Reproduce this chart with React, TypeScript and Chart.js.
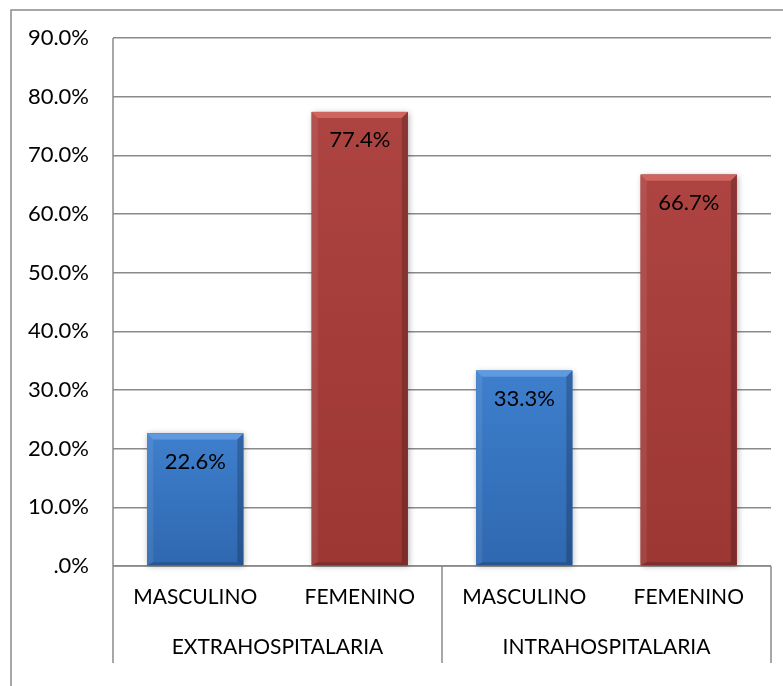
import { useEffect, useRef } from "react";
import { Chart, registerables } from "chart.js";

Chart.register(...registerables);

// Categories (inner level) and their outer grouping
const categories = ["MASCULINO", "FEMENINO", "MASCULINO", "FEMENINO"];
const groups = ["EXTRAHOSPITALARIA", "INTRAHOSPITALARIA"];
const groupSizes = [2, 2];

// Percentages per bar
const percentages = [22.6, 77.4, 33.3, 66.7];

// Axis settings
const yMax = 90;
const yStep = 10;

const FONT = "Lato, 'Open Sans', sans-serif";
const GRID = "#8a8a8a";

const palette = {
  blue: { base: "#3877c6", light: "#3e7fcd", dark: "#2f68b0", top: "#5f9ae0" },
  red: { base: "#a63e3b", light: "#ad4441", dark: "#9c3734", top: "#d0645f" },
};
const barTones = [palette.blue, palette.red, palette.blue, palette.red];

function barBox(el: any) {
  const { x, y, base, width } = el.getProps(["x", "y", "base", "width"], true);
  return { left: x - width / 2, right: x + width / 2, top: y, bottom: base, x };
}

const framePlugin = {
  id: "frame",
  beforeDraw(chart: any) {
    const { ctx } = chart;
    ctx.save();
    ctx.fillStyle = "#ffffff";
    ctx.fillRect(0, 0, chart.width, chart.height);
    ctx.strokeStyle = GRID;
    ctx.lineWidth = 1.5;
    ctx.strokeRect(11, 10, chart.width + 20, chart.height + 20);
    ctx.restore();
  },
  beforeDatasetsDraw(chart: any) {
    const { ctx, chartArea } = chart;
    const xs = chart.scales.x;
    const bottomLine = 663;
    ctx.save();
    ctx.strokeStyle = GRID;
    ctx.lineWidth = 1.5;
    // value axis and baseline
    ctx.beginPath();
    ctx.moveTo(chartArea.left, chartArea.top);
    ctx.lineTo(chartArea.left, bottomLine);
    ctx.moveTo(chartArea.left, chartArea.bottom);
    ctx.lineTo(chartArea.right, chartArea.bottom);
    // group separators
    let idx = 0;
    const half = (xs.getPixelForValue(1) - xs.getPixelForValue(0)) / 2;
    groupSizes.forEach((n) => {
      idx += n;
      const sx = xs.getPixelForValue(idx - 1) + half;
      ctx.moveTo(sx, chartArea.bottom);
      ctx.lineTo(sx, bottomLine);
    });
    ctx.stroke();

    // soft shadows under the bars
    const meta = chart.getDatasetMeta(0);
    meta.data.forEach((el: any, i: number) => {
      const b = barBox(el);
      ctx.save();
      ctx.shadowColor = "rgba(0,0,0,0.3)";
      ctx.shadowBlur = 6;
      ctx.shadowOffsetX = 1;
      ctx.shadowOffsetY = 1;
      ctx.fillStyle = barTones[i].base;
      ctx.fillRect(b.left, b.top, b.right - b.left, b.bottom - b.top);
      ctx.restore();
    });
    ctx.restore();
  },
  afterDatasetsDraw(chart: any) {
    const { ctx } = chart;
    const meta = chart.getDatasetMeta(0);
    const xs = chart.scales.x;
    ctx.save();
    meta.data.forEach((el: any, i: number) => {
      const b = barBox(el);
      const tone = barTones[i];
      const w = b.right - b.left;
      const h = b.bottom - b.top;
      const bev = 6;
      // body shading
      const g = ctx.createLinearGradient(0, b.top, 0, b.bottom);
      g.addColorStop(0, tone.light);
      g.addColorStop(1, tone.dark);
      ctx.fillStyle = g;
      ctx.fillRect(b.left, b.top, w, h);
      // top bevel
      ctx.fillStyle = tone.top;
      ctx.beginPath();
      ctx.moveTo(b.left, b.top);
      ctx.lineTo(b.right, b.top);
      ctx.lineTo(b.right - bev, b.top + bev);
      ctx.lineTo(b.left + bev, b.top + bev);
      ctx.closePath();
      ctx.fill();
      // left bevel
      ctx.fillStyle = "rgba(255,255,255,0.08)";
      ctx.beginPath();
      ctx.moveTo(b.left, b.top);
      ctx.lineTo(b.left + bev, b.top + bev);
      ctx.lineTo(b.left + bev, b.bottom - 3);
      ctx.lineTo(b.left, b.bottom);
      ctx.closePath();
      ctx.fill();
      // right bevel
      ctx.fillStyle = "rgba(0,0,0,0.2)";
      ctx.beginPath();
      ctx.moveTo(b.right, b.top);
      ctx.lineTo(b.right - bev, b.top + bev);
      ctx.lineTo(b.right - bev, b.bottom - 3);
      ctx.lineTo(b.right, b.bottom);
      ctx.closePath();
      ctx.fill();
      // bottom bevel
      ctx.fillStyle = "rgba(0,0,0,0.18)";
      ctx.beginPath();
      ctx.moveTo(b.left, b.bottom);
      ctx.lineTo(b.left + bev, b.bottom - 3);
      ctx.lineTo(b.right - bev, b.bottom - 3);
      ctx.lineTo(b.right, b.bottom);
      ctx.closePath();
      ctx.fill();

      // value label
      ctx.fillStyle = "#000000";
      ctx.font = `22px ${FONT}`;
      ctx.textAlign = "center";
      ctx.textBaseline = "middle";
      ctx.fillText(`${percentages[i].toFixed(1)}%`, b.x, b.top + 28);
    });

    // outer category level
    ctx.font = `21px ${FONT}`;
    ctx.fillStyle = "#000000";
    ctx.textAlign = "center";
    ctx.textBaseline = "middle";
    let start = 0;
    groups.forEach((name, gi) => {
      const end = start + groupSizes[gi] - 1;
      const cx = (xs.getPixelForValue(start) + xs.getPixelForValue(end)) / 2;
      ctx.fillText(name, cx, 647);
      start = end + 1;
    });
    ctx.restore();
  },
};

export default function App() {
  const ref = useRef<HTMLCanvasElement | null>(null);

  useEffect(() => {
    if (!ref.current) return;
    const chart = new Chart(ref.current, {
      type: "bar",
      data: {
        labels: categories,
        datasets: [
          {
            data: percentages,
            backgroundColor: barTones.map((t) => t.base),
            borderWidth: 0,
            categoryPercentage: 1,
            barPercentage: 0.584,
          },
        ],
      },
      options: {
        responsive: false,
        animation: false,
        devicePixelRatio: 1,
        layout: { padding: { left: 0, top: 38, right: 12, bottom: 0 } },
        plugins: {
          legend: { display: false },
          tooltip: { enabled: false },
        },
        scales: {
          x: {
            grid: { display: false, drawTicks: false },
            border: { display: false },
            ticks: {
              color: "#000000",
              font: { family: FONT, size: 21 },
              padding: 19,
              maxRotation: 0,
              autoSkip: false,
            },
            afterFit: (s: any) => {
              s.height = 120;
            },
          },
          y: {
            min: 0,
            max: yMax,
            grid: { color: GRID, lineWidth: 1.5, drawTicks: false },
            border: { display: false },
            ticks: {
              stepSize: yStep,
              color: "#000000",
              font: { family: FONT, size: 22 },
              padding: 24,
              callback: (v: any) => (Number(v) === 0 ? ".0%" : `${Number(v).toFixed(1)}%`),
            },
            afterFit: (s: any) => {
              s.width = 113;
            },
          },
        },
      },
      plugins: [framePlugin],
    });
    return () => chart.destroy();
  }, []);

  return (
    <div style={{ position: "fixed", left: 0, top: 0, width: 783, height: 686, background: "#fff" }}>
      <canvas ref={ref} width={783} height={686} style={{ display: "block" }} />
    </div>
  );
}
